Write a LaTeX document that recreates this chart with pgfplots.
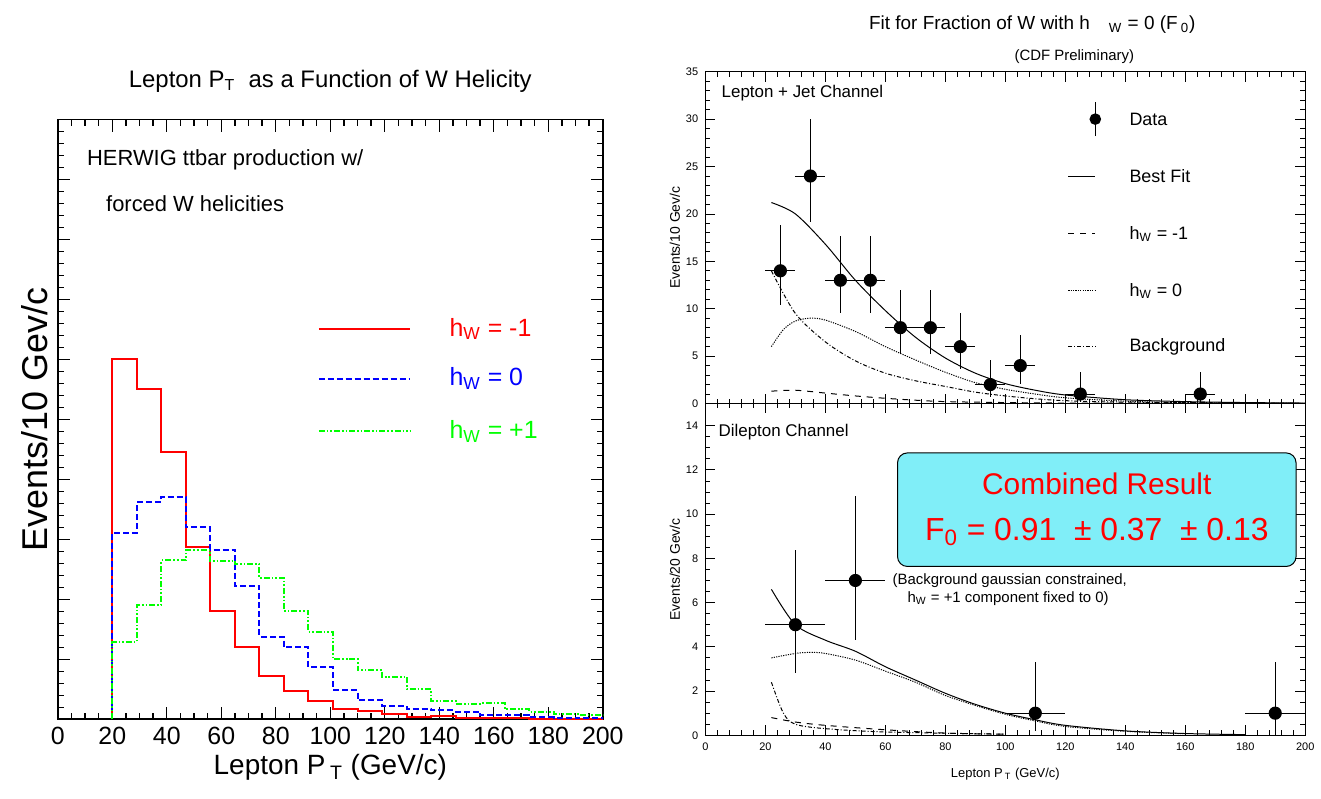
\documentclass[border=0pt]{standalone}
\usepackage{pgfplots}
\pgfplotsset{compat=1.18}
\usepackage{fontspec}
\setmainfont{Liberation Sans}
\definecolor{boxcyan}{RGB}{128,238,248}
\newcommand{\sub}[1]{\textsubscript{#1}}
\begin{document}
\begin{tikzpicture}[x=1pt,y=1pt]
\path (0,0) rectangle (660.5,400.5);
% ---------- left ----------
\begin{axis}[at={(29pt,39.5pt)},anchor=south west,scale only axis,width=273.5pt,height=301pt,
 xmin=0,xmax=200,ymin=0,ymax=10,xtick={0,20,...,200},ytick={0,...,10},yticklabels={},
 minor x tick num=3, minor y tick num=4, tick align=inside, line width=0.9pt,
 major tick length=6pt, minor tick length=3pt,
 tick style={black,line width=0.7pt},
 /pgf/number format/assume math mode=true,
 ticklabel style={font=\fontsize{12.5}{14}\selectfont},
 xlabel={Lepton P\,\sub{T} (GeV/c)}, xlabel style={font=\fontsize{14}{16}\selectfont,yshift=2pt},
 ylabel={Events/10 Gev/c}, ylabel style={font=\fontsize{18}{20}\selectfont,yshift=-6pt},
 title={Lepton P\sub{T}\ \ as a Function of W Helicity}, title style={font=\fontsize{12}{14}\selectfont,yshift=4pt},
 clip=false]
\addplot[red,line width=1pt,const plot] coordinates {(20,0)(20,6.0)(29,5.51)(38,4.45)(47,2.88)(56,1.81)(65,1.20)(74,0.72)(83,0.48)(92,0.30)(101,0.18)(110,0.14)(119,0.09)(128,0.04)(137,0.06)(146,0.03)(155,0.02)(164,0.02)(173,0.01)(182,0.01)(191,0.01)(200,0.01)};
\addplot[blue,line width=1pt,const plot,dash pattern=on 3pt off 1.5pt] coordinates {(20,0)(20,3.11)(29,3.62)(38,3.71)(47,3.20)(56,2.83)(65,2.22)(74,1.38)(83,1.20)(92,0.87)(101,0.49)(110,0.32)(119,0.22)(128,0.17)(137,0.15)(146,0.13)(155,0.07)(164,0.07)(173,0.04)(182,0.03)(191,0.02)(200,0.02)};
\addplot[green,line width=1pt,const plot,dash pattern=on 3pt off 1pt on 0.8pt off 1pt on 0.8pt off 1pt] coordinates {(20,0)(20,1.29)(29,1.91)(38,2.65)(47,2.82)(56,2.64)(65,2.59)(74,2.36)(83,1.81)(92,1.46)(101,1.01)(110,0.82)(119,0.71)(128,0.50)(137,0.30)(146,0.26)(155,0.27)(164,0.17)(173,0.13)(182,0.09)(191,0.07)(200,0.07)};
\draw[red,line width=1pt] (axis cs:95.8,6.51)--(axis cs:129.4,6.51);
\draw[blue,line width=1pt,dash pattern=on 3pt off 1.5pt] (axis cs:95.8,5.68)--(axis cs:129.4,5.68);
\draw[green,line width=1pt,dash pattern=on 3pt off 1pt on 0.8pt off 1pt on 0.8pt off 1pt] (axis cs:95.8,4.8)--(axis cs:129.4,4.8);
\node[red,anchor=west,font=\fontsize{12.5}{14}\selectfont] at (axis cs:141,6.51) {h\sub{W} = -1};
\node[blue,anchor=west,font=\fontsize{12.5}{14}\selectfont] at (axis cs:141,5.68) {h\sub{W} = 0};
\node[green,anchor=west,font=\fontsize{12.5}{14}\selectfont] at (axis cs:141,4.8) {h\sub{W} = +1};
\node[anchor=west,font=\fontsize{11}{13}\selectfont] at (axis cs:8,9.33) {HERWIG ttbar production w/};
\node[anchor=west,font=\fontsize{11}{13}\selectfont] at (axis cs:15,8.59) {forced W helicities};
\end{axis}
% ---------- right top ----------
\begin{axis}[at={(354pt,198pt)},anchor=south west,scale only axis,width=301pt,height=166.5pt,
 xmin=0,xmax=200,ymin=0,ymax=35,xtick={0,20,...,200},xticklabels={},ytick={0,5,...,35},
 minor x tick num=4, minor y tick num=4, tick align=inside, line width=0.6pt,
 major tick length=5pt, minor tick length=2.5pt, tick style={black,line width=0.4pt},
 /pgf/number format/assume math mode=true,
 ticklabel style={font=\fontsize{5.5}{6}\selectfont},
 ylabel={Events/10 Gev/c}, ylabel style={font=\fontsize{7}{8}\selectfont,yshift=-4pt},
 clip=false]
\addplot[black,only marks,mark=*,mark size=3pt,error bars/.cd,x dir=both,x explicit,y dir=both,y explicit,error mark=none,error bar style={line width=0.5pt}] coordinates {
(25,14) +- (5,4.8) -= (5,3.6)
(35,24) +- (5,6) -= (5,4.8)
(45,13) +- (5,4.7) -= (5,3.5)
(55,13) +- (5,4.7) -= (5,3.5)
(65,8) +- (5,4) -= (5,2.8)
(75,8) +- (5,4) -= (5,2.8)
(85,6) +- (5,3.6) -= (5,2.4)
(95,2) +- (5,2.6) -= (5,1.3)
(105,4) +- (5,3.2) -= (5,1.9)
(125,1) +- (5,2.3) -= (5,0.8)
(165,1) +- (5,2.3) -= (5,0.8)};
\addplot[black,smooth,line width=0.5pt] coordinates {(22,21.2)(30,20)(40,16.8)(50,13)(60,9.8)(70,7)(80,4.8)(90,3.2)(100,2.1)(110,1.4)(120,0.9)(140,0.4)(160,0.2)(180,0.1)(200,0.05)};
\addplot[black,smooth,line width=0.5pt,dash pattern=on 0.6pt off 0.6pt] coordinates {(22,6)(26,7.8)(30,8.7)(35,9)(40,8.8)(50,7.6)(60,6)(70,4.6)(80,3.3)(90,2.2)(100,1.5)(110,1)(120,0.6)(140,0.25)(160,0.1)(200,0.02)};
\addplot[black,smooth,line width=0.5pt,dash pattern=on 2pt off 1pt on 0.5pt off 1pt] coordinates {(22,14)(30,9.5)(40,6.5)(50,4.5)(60,3.2)(70,2.4)(80,1.8)(90,1.2)(100,0.8)(110,0.5)(120,0.3)(140,0.15)(200,0.02)};
\addplot[black,smooth,line width=0.5pt,dashed] coordinates {(22,1.3)(30,1.4)(40,1.1)(50,0.8)(60,0.55)(70,0.35)(80,0.2)(100,0.1)(120,0.05)(160,0.02)};
\node[anchor=west,font=\fontsize{8.5}{10}\selectfont] at (axis cs:3,32.7) {Lepton + Jet Channel};
\addplot[black,only marks,mark=*,mark size=2.6pt] coordinates {(130,30)};
\draw[line width=0.5pt] (axis cs:130,28.2)--(axis cs:130,31.8);
\draw[line width=0.5pt] (axis cs:121,24)--(axis cs:130,24);
\draw[line width=0.5pt,dashed] (axis cs:121,17.9)--(axis cs:130,17.9);
\draw[line width=0.5pt,dash pattern=on 0.6pt off 0.6pt] (axis cs:121,11.9)--(axis cs:130,11.9);
\draw[line width=0.5pt,dash pattern=on 2pt off 1pt on 0.5pt off 1pt] (axis cs:121,6)--(axis cs:130,6);
\begin{scope}[every node/.style={anchor=west,font=\fontsize{9}{10}\selectfont}]
\node at (axis cs:139,30) {Data};
\node at (axis cs:139,24) {Best Fit};
\node at (axis cs:139,17.9) {h\sub{W} = -1};
\node at (axis cs:139,11.9) {h\sub{W} = 0};
\node at (axis cs:139,6) {Background};
\end{scope}
\node[font=\fontsize{9.5}{11}\selectfont] at (axis cs:109,40) {Fit for Fraction of W with h\quad\sub{W} = 0 (F\,\sub{0})};
\node[font=\fontsize{7.5}{9}\selectfont] at (axis cs:123,36.6) {(CDF Preliminary)};
\end{axis}
% ---------- right bottom ----------
\begin{axis}[at={(354pt,31.5pt)},anchor=south west,scale only axis,width=301pt,height=166.5pt,
 xmin=0,xmax=200,ymin=0,ymax=15,xtick={0,20,...,200},ytick={0,2,...,14},
 minor x tick num=4, minor y tick num=3, tick align=inside, line width=0.6pt,
 major tick length=5pt, minor tick length=2.5pt, tick style={black,line width=0.4pt},
 /pgf/number format/assume math mode=true,
 ticklabel style={font=\fontsize{5.5}{6}\selectfont},
 ylabel={Events/20 Gev/c}, ylabel style={font=\fontsize{7}{8}\selectfont,yshift=-4pt},
 xlabel={Lepton P\,\sub{T} (GeV/c)}, xlabel style={font=\fontsize{6.5}{8}\selectfont,yshift=-2pt},
 clip=false]
\addplot[black,only marks,mark=*,mark size=3pt,error bars/.cd,x dir=both,x explicit,y dir=both,y explicit,error mark=none,error bar style={line width=0.5pt}] coordinates {
(30,5) +- (10,3.4) -= (10,2.2)
(50,7) +- (10,3.8) -= (10,2.7)
(110,1) +- (10,2.3) -= (10,0.8)
(190,1) +- (10,2.3) -= (10,1)};
\addplot[black,smooth,line width=0.5pt] coordinates {(22,6.6)(30,5)(40,4.3)(50,3.8)(60,3.1)(70,2.5)(80,1.9)(90,1.4)(100,1.0)(110,0.7)(120,0.45)(140,0.2)(160,0.08)(180,0.03)};
\addplot[black,smooth,line width=0.5pt,dash pattern=on 0.6pt off 0.6pt] coordinates {(22,3.5)(30,3.7)(35,3.75)(40,3.7)(50,3.4)(60,2.9)(70,2.4)(80,1.8)(90,1.35)(100,0.95)(110,0.65)(120,0.4)(140,0.18)(160,0.07)};
\addplot[black,smooth,line width=0.5pt,dashed] coordinates {(22,0.8)(30,0.6)(40,0.45)(60,0.25)(80,0.1)(100,0.05)};
\addplot[black,smooth,line width=0.5pt,dash pattern=on 2pt off 1pt on 0.5pt off 1pt] coordinates {(22,2.4)(26,1.0)(30,0.5)(40,0.3)(60,0.15)(100,0.05)};
\node[anchor=west,font=\fontsize{8.5}{10}\selectfont] at (axis cs:2,13.7) {Dilepton Channel};
\node[draw=black,fill=boxcyan,rounded corners=5pt,line width=0.5pt,minimum width=200pt,minimum height=57pt,align=center,text=red,inner sep=2pt] at (axis cs:130.5,10.2) {{\fontsize{15}{17}\selectfont Combined Result}\\[11pt]{\fontsize{16}{18}\selectfont F\sub{0} = 0.91 \ ± 0.37 \ ± 0.13}};
\node[anchor=west,font=\fontsize{7.5}{9}\selectfont,align=left] at (axis cs:60,6.6) {(Background gaussian constrained,\\\quad h\sub{W} = +1 component fixed to 0)};
\end{axis}
\end{tikzpicture}
\end{document}
